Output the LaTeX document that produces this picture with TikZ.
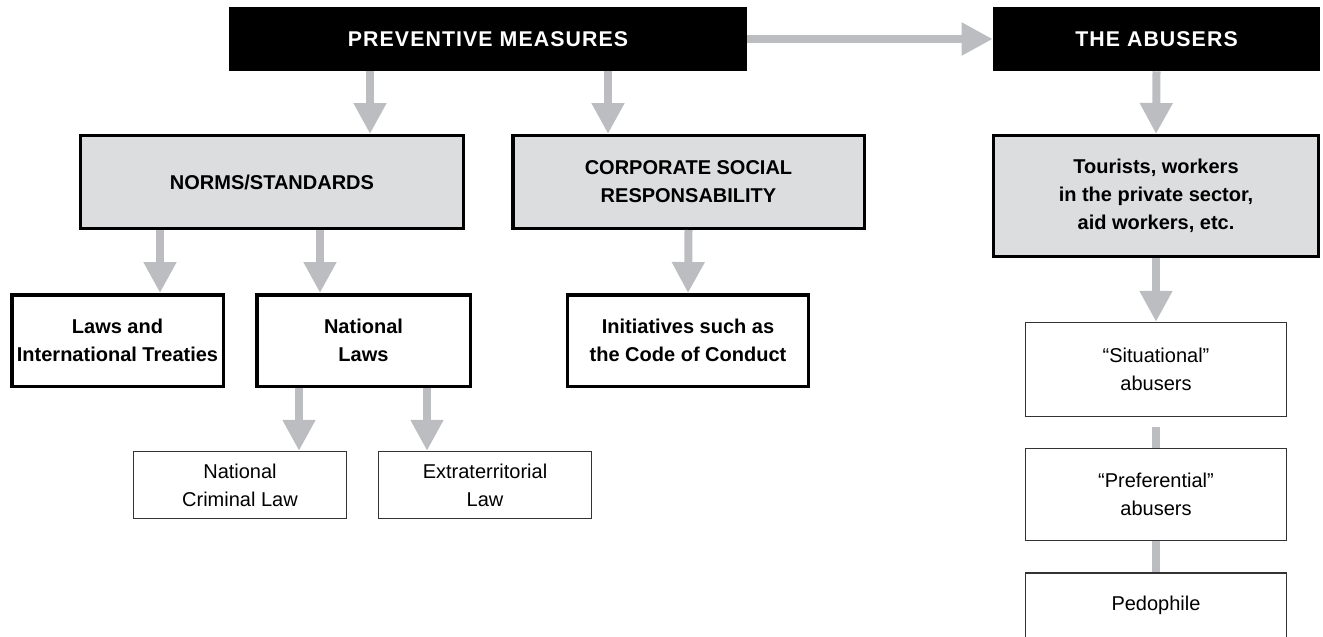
\documentclass[tikz,border=0pt]{standalone}
\usepackage{fontspec}
\setmainfont{Liberation Sans}
\newfontfamily\headfont{Liberation Sans}[LetterSpace=5]
\usetikzlibrary{arrows.meta}

\definecolor{arrowgray}{HTML}{BCBDC0}
\definecolor{boxgray}{HTML}{DCDDDE}

\tikzset{
  txtbase/.style={rectangle, align=center, inner sep=0pt,
    font=\fontsize{15}{21}\selectfont},
  headbox/.style={txtbase, fill=black, text=white,
    font=\headfont\bfseries\fontsize{16}{21}\selectfont},
  graybox/.style={txtbase, draw=black, line width=2.6pt, fill=boxgray,
    font=\bfseries\fontsize{15}{21}\selectfont},
  boldbox/.style={txtbase, draw=black, line width=2.6pt, fill=white,
    font=\bfseries\fontsize{15}{21}\selectfont},
  plainbox/.style={txtbase, draw=black!80, line width=1pt, fill=white},
  fat/.style={draw=arrowgray, line width=6pt,
    -{Triangle[width=23.25pt,length=23.25pt]}},
  bar/.style={draw=arrowgray, line width=6pt}
}

\begin{document}
\begin{tikzpicture}[x=0.75pt,y=-0.75pt]
\useasboundingbox (0,0) rectangle (1323,636);

% top row
\node[headbox, minimum width=388.5pt, minimum height=48pt] (pm) at (488,39) {PREVENTIVE MEASURES};
\node[headbox, minimum width=245.25pt, minimum height=48pt] (abu) at (1156.5,39) {THE ABUSERS};

% second row
\node[graybox, minimum width=286.9pt, minimum height=69.4pt] (norms) at (272,182) {NORMS/STANDARDS};
\node[graybox, minimum width=263.6pt, minimum height=69.4pt] (csr) at (688.5,182) {CORPORATE SOCIAL\\RESPONSABILITY};
\node[graybox, minimum width=243.4pt, minimum height=90.4pt] (tour) at (1156,196) {Tourists, workers\\in the private sector,\\aid workers, etc.};

% third row
\node[boldbox, minimum width=158.6pt, minimum height=68.6pt] (laws) at (117.5,340.5) {Laws and\\International Treaties};
\node[boldbox, minimum width=160.1pt, minimum height=68.6pt] (natl) at (363.5,340.5) {National\\Laws};
\node[boldbox, minimum width=180.4pt, minimum height=68.6pt] (init) at (688,340.5) {Initiatives such as\\the Code of Conduct};

% fourth row
\node[plainbox, minimum width=159.75pt, minimum height=50.25pt] (crim) at (240,485) {National\\Criminal Law};
\node[plainbox, minimum width=159.75pt, minimum height=50.25pt] (extra) at (485,485) {Extraterritorial\\Law};

% abuser types
\node[plainbox, minimum width=195.75pt, minimum height=70.5pt] (sit) at (1156,369.5) {“Situational”\\abusers};
\node[plainbox, minimum width=195.75pt, minimum height=69pt] (pref) at (1156,494.5) {“Preferential”\\abusers};
\node[plainbox, minimum width=195.75pt, minimum height=48.75pt] (pedo) at (1156,605.5) {Pedophile};

% arrow columns
\coordinate (c1) at (370,0);
\coordinate (c2) at (608,0);
\coordinate (c3) at (160,0);
\coordinate (c4) at (320,0);
\coordinate (c5) at (299,0);
\coordinate (c6) at (427,0);

% connectors
\draw[fat] (pm.east) -- (abu.west);
\draw[fat] (pm.south -| c1) -- (norms.north -| c1);
\draw[fat] (pm.south -| c2) -- (csr.north -| c2);
\draw[fat] (abu.south) -- (tour.north);
\draw[fat] (norms.south -| c3) -- (laws.north -| c3);
\draw[fat] (norms.south -| c4) -- (natl.north -| c4);
\draw[fat] (csr.south) -- (init.north);
\draw[fat] (natl.south -| c5) -- (crim.north -| c5);
\draw[fat] (natl.south -| c6) -- (extra.north -| c6);
\draw[fat] (tour.south) -- (sit.north);
\draw[bar] ([yshift=-7.5pt]sit.south) -- (pref.north);
\draw[bar] (pref.south) -- (pedo.north);
\end{tikzpicture}
\end{document}
